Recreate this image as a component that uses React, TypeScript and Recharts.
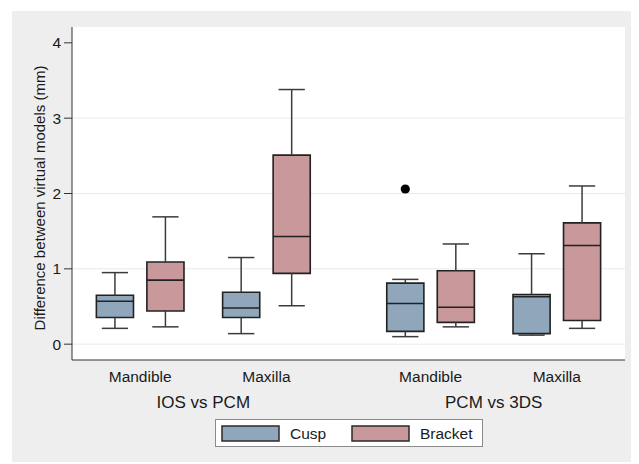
import React from 'react'
import {
  ComposedChart,
  XAxis,
  YAxis,
  CartesianGrid,
  ReferenceArea,
  ReferenceLine,
  Scatter,
  Legend,
} from 'recharts'

const groups = ['IOS vs PCM', 'PCM vs 3DS']
const jaws = ['Mandible', 'Maxilla']
const seriesNames = ['Cusp', 'Bracket']
const seriesColors = ['#8fa6bb', '#c9989b']

// order: IOS/Mandible, IOS/Maxilla, PCM/Mandible, PCM/Maxilla
const cuspMin = [0.21, 0.14, 0.1, 0.12]
const cuspQ1 = [0.355, 0.355, 0.17, 0.14]
const cuspMedian = [0.57, 0.48, 0.54, 0.63]
const cuspQ3 = [0.65, 0.69, 0.81, 0.66]
const cuspMax = [0.95, 1.15, 0.86, 1.2]
const cuspOutliers = [[], [], [2.06], []]

const bracketMin = [0.23, 0.51, 0.23, 0.21]
const bracketQ1 = [0.44, 0.94, 0.29, 0.315]
const bracketMedian = [0.85, 1.43, 0.49, 1.31]
const bracketQ3 = [1.09, 2.51, 0.975, 1.61]
const bracketMax = [1.69, 3.38, 1.33, 2.1]
const bracketOutliers: number[][] = [[], [], [], []]

const yTicks = [0, 1, 2, 3, 4]

const stats = [
  { min: cuspMin, q1: cuspQ1, med: cuspMedian, q3: cuspQ3, max: cuspMax, out: cuspOutliers },
  { min: bracketMin, q1: bracketQ1, med: bracketMedian, q3: bracketQ3, max: bracketMax, out: bracketOutliers },
]

const FONT = '"Liberation Sans", Arial, sans-serif'
const BOX_HALF = 0.735
const CAP_HALF = 0.52
const WHISKER = '#3c3c3c'
const EDGE = '#222'

// x position of a box: group spacing 11.5, jaw spacing 5, series spacing 2
const pos = (g: number, j: number, s: number) => g * 11.5 + j * 5 + s * 2

const tickInfo: Record<string, { text: string; level: number }> = {}
const xTicks: number[] = []
groups.forEach((grp, g) => {
  const centers = jaws.map((jaw, j) => {
    const c = pos(g, j, 0) + 1
    tickInfo[c.toFixed(2)] = { text: jaw, level: 0 }
    xTicks.push(c)
    return c
  })
  const gc = (centers[0] + centers[centers.length - 1]) / 2
  tickInfo[gc.toFixed(2)] = { text: grp, level: 1 }
  xTicks.push(gc)
})
xTicks.sort((a, b) => a - b)

const outlierPoints: { x: number; y: number }[] = []
const marks: React.ReactElement[] = []
groups.forEach((_, g) => {
  jaws.forEach((__, j) => {
    const i = g * jaws.length + j
    stats.forEach((st, s) => {
      const x = pos(g, j, s)
      const k = `${g}-${j}-${s}`
      marks.push(
        <ReferenceLine key={`wu${k}`} segment={[{ x, y: st.q3[i] }, { x, y: st.max[i] }]} stroke={WHISKER} strokeWidth={1.5} />,
        <ReferenceLine key={`wl${k}`} segment={[{ x, y: st.min[i] }, { x, y: st.q1[i] }]} stroke={WHISKER} strokeWidth={1.5} />,
        <ReferenceLine key={`cu${k}`} segment={[{ x: x - CAP_HALF, y: st.max[i] }, { x: x + CAP_HALF, y: st.max[i] }]} stroke={WHISKER} strokeWidth={1.5} />,
        <ReferenceLine key={`cl${k}`} segment={[{ x: x - CAP_HALF, y: st.min[i] }, { x: x + CAP_HALF, y: st.min[i] }]} stroke={WHISKER} strokeWidth={1.5} />,
        <ReferenceArea key={`b${k}`} x1={x - BOX_HALF} x2={x + BOX_HALF} y1={st.q1[i]} y2={st.q3[i]} fill={seriesColors[s]} fillOpacity={1} stroke={EDGE} strokeWidth={1.6} />,
        <ReferenceLine key={`m${k}`} segment={[{ x: x - BOX_HALF, y: st.med[i] }, { x: x + BOX_HALF, y: st.med[i] }]} stroke={EDGE} strokeWidth={1.6} />
      )
      st.out[i].forEach((v) => outlierPoints.push({ x, y: v }))
    })
  })
})

const XTick = ({ x, y, payload }: any) => {
  const info = tickInfo[Number(payload.value).toFixed(2)]
  if (!info) return null
  return (
    <text
      x={x}
      y={y + (info.level === 0 ? 22 : 48)}
      textAnchor="middle"
      fontSize={info.level === 0 ? 15.5 : 17}
      fontFamily={FONT}
      fill="#1a1a1a"
    >
      {info.text}
    </text>
  )
}

const YLabel = () => (
  <text
    x={27}
    y={187}
    transform="rotate(-90, 27, 187)"
    textAnchor="middle"
    dominantBaseline="central"
    fontSize={15}
    fontFamily={FONT}
    fill="#1a1a1a"
  >
    Difference between virtual models (mm)
  </text>
)

const LegendBox = () => (
  <svg width={268} height={28} style={{ display: 'block' }}>
    <rect x={0.5} y={0.5} width={267} height={27} fill="#fff" stroke="#8a8a8a" />
    {seriesNames.map((name, i) => (
      <g key={name}>
        <rect x={7 + i * 130} y={7} width={57} height={15} fill={seriesColors[i]} stroke="#2a2a2a" strokeWidth={1.5} />
        <text x={75 + i * 130} y={20} fontSize={15.5} fontFamily={FONT} fill="#1a1a1a">
          {name}
        </text>
      </g>
    ))}
  </svg>
)

export default function App() {
  return (
    <div style={{ width: 627, height: 451, margin: '3px 0 0 4px', background: '#eeeeee' }}>
      <ComposedChart width={627} height={451} margin={{ top: 16, right: 14, left: 0, bottom: 15 }}>
        <CartesianGrid vertical={false} horizontalValues={yTicks.slice(0, -1)} stroke="#e3ebf0" fill="#fff" />
        <XAxis
          type="number"
          dataKey="x"
          domain={[-1.7, 20.2]}
          ticks={xTicks}
          interval={0}
          tick={<XTick />}
          tickLine={false}
          tickSize={0}
          tickMargin={0}
          height={59}
          axisLine={{ stroke: '#333' }}
          allowDataOverflow
        />
        <YAxis
          type="number"
          dataKey="y"
          domain={[-0.21, 4.21]}
          ticks={yTicks}
          interval={0}
          width={60}
          tickSize={8}
          tickMargin={3}
          tick={{ fontSize: 15.5, fontFamily: FONT, fill: '#1a1a1a' }}
          axisLine={{ stroke: '#333' }}
          tickLine={{ stroke: '#333' }}
          label={() => <YLabel />}
          allowDataOverflow
        />
        {marks}
        <Scatter
          data={outlierPoints}
          dataKey="y"
          isAnimationActive={false}
          shape={(p: any) => <circle cx={p.cx} cy={p.cy} r={4.6} fill="#000" />}
          legendType="none"
        />
        <Legend
          verticalAlign="bottom"
          content={() => <LegendBox />}
          wrapperStyle={{ left: 203, bottom: 15, width: 268, height: 28 }}
        />
      </ComposedChart>
    </div>
  )
}
